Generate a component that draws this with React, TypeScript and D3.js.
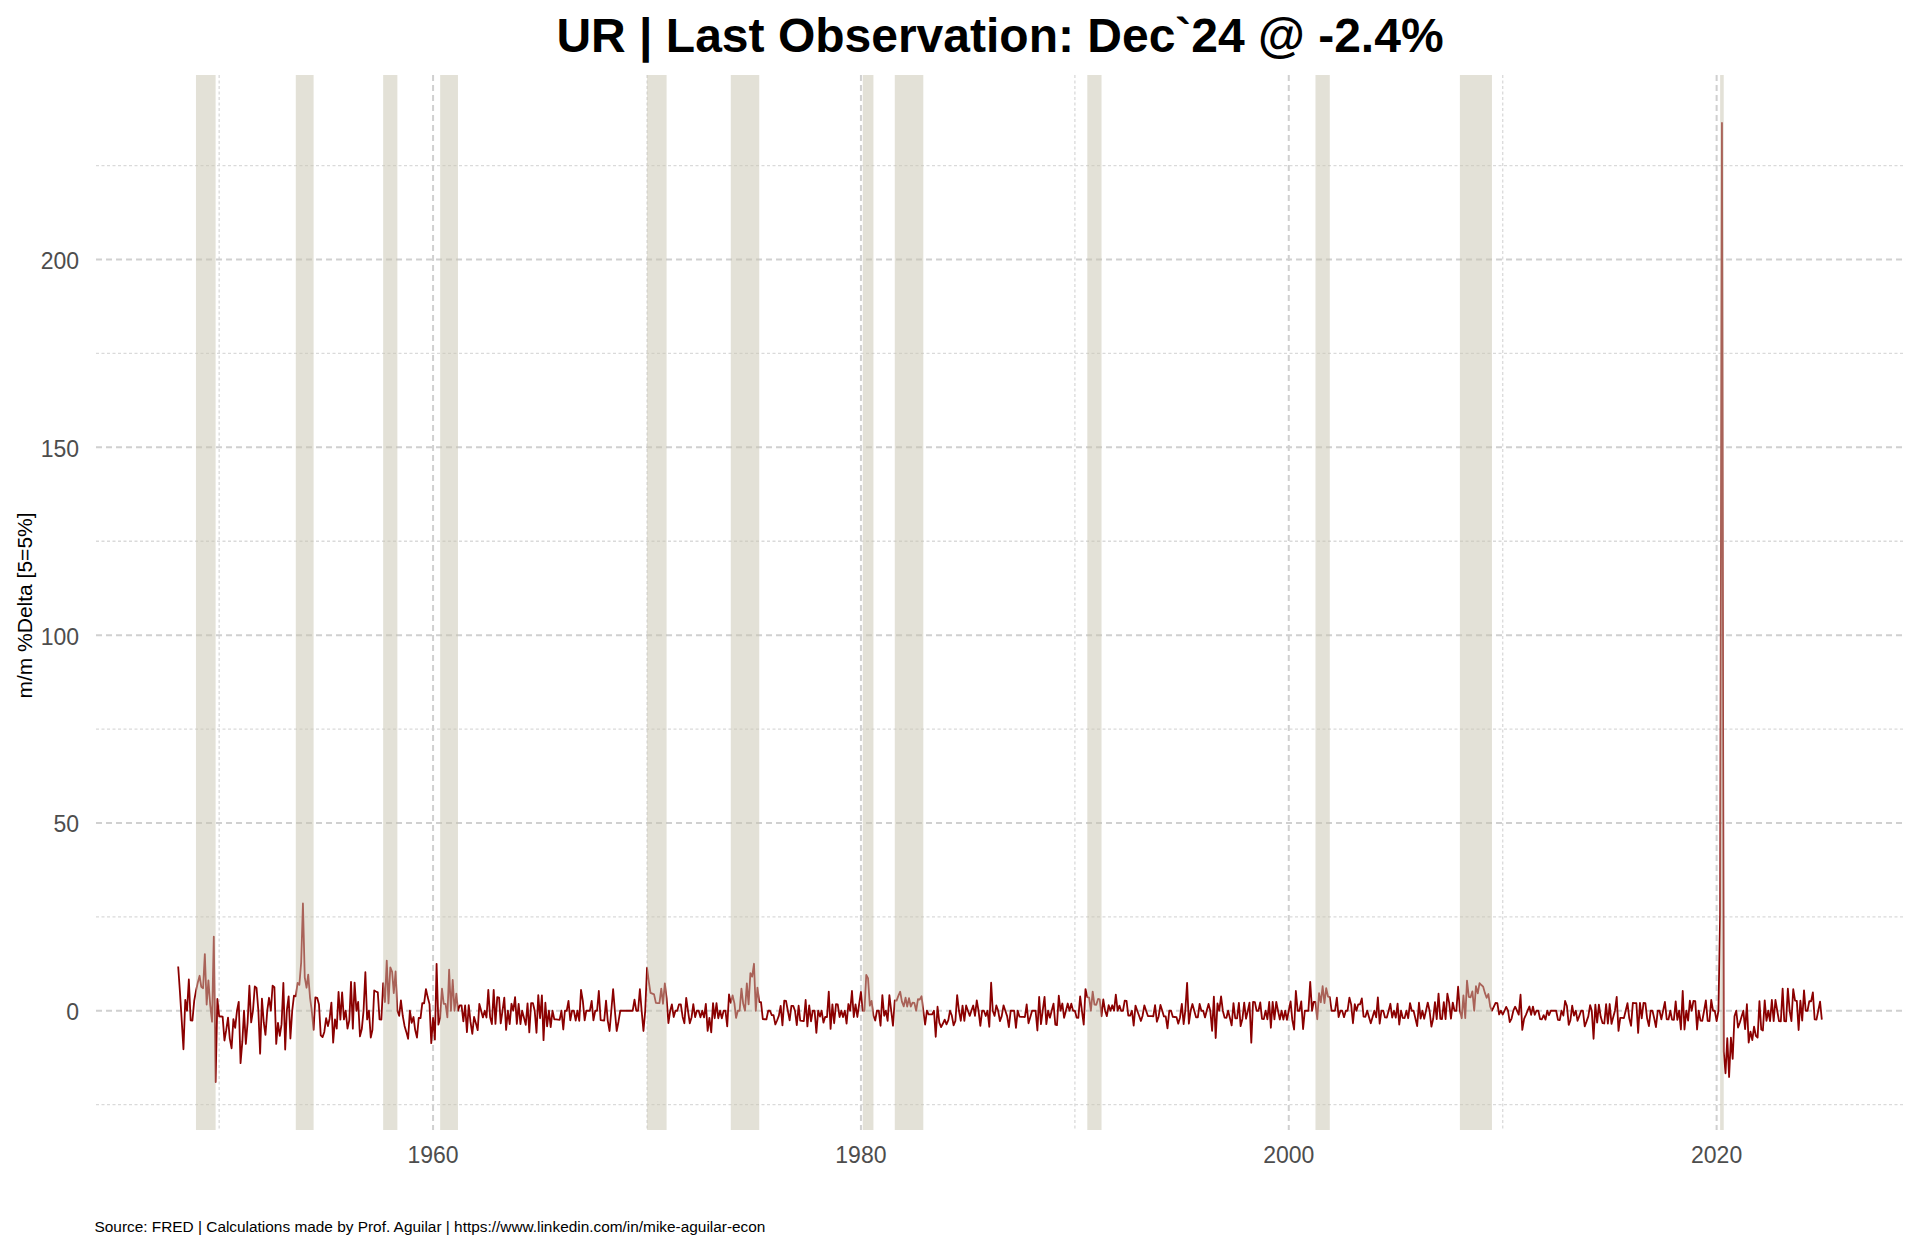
import React, { useEffect, useRef } from 'react';
import * as d3 from 'd3';

// US civilian unemployment rate (UNRATE, %), monthly, Jan 1948 – Dec 2024
const ur1940s = [
  3.4, 3.8, 4.0, 3.9, 3.5, 3.6, 3.6, 3.9, 3.8, 3.7, 3.8, 4.0,
  4.3, 4.7, 5.0, 5.3, 6.1, 6.2, 6.7, 6.8, 6.6, 7.9, 6.4, 6.6,
];
const ur1950s = [
  6.5, 6.4, 6.3, 5.8, 5.5, 5.4, 5.0, 4.5, 4.4, 4.2, 4.2, 4.3,
  3.7, 3.4, 3.4, 3.1, 3.0, 3.2, 3.1, 3.1, 3.3, 3.5, 3.5, 3.1,
  3.2, 3.1, 2.9, 2.9, 3.0, 3.0, 3.2, 3.4, 3.1, 3.0, 2.8, 2.7,
  2.9, 2.6, 2.6, 2.7, 2.5, 2.5, 2.6, 2.7, 2.9, 3.1, 3.5, 4.5,
  4.9, 5.2, 5.7, 5.9, 5.9, 5.6, 5.8, 6.0, 6.1, 5.7, 5.3, 5.0,
  4.9, 4.7, 4.6, 4.7, 4.3, 4.2, 4.0, 4.2, 4.1, 4.3, 4.2, 4.2,
  4.0, 3.9, 4.2, 4.0, 4.3, 4.3, 4.4, 4.1, 3.9, 3.9, 4.3, 4.2,
  4.2, 3.9, 3.7, 3.9, 4.1, 4.3, 4.2, 4.1, 4.4, 4.5, 5.1, 5.2,
  5.8, 6.4, 6.7, 7.4, 7.4, 7.3, 7.5, 7.4, 7.1, 6.7, 6.2, 6.2,
  6.0, 5.9, 5.6, 5.2, 5.1, 5.0, 5.1, 5.2, 5.5, 5.7, 5.8, 5.3,
];
const ur1960s = [
  5.2, 4.8, 5.4, 5.2, 5.1, 5.4, 5.5, 5.6, 5.5, 6.1, 6.1, 6.6,
  6.6, 6.9, 6.9, 7.0, 7.1, 6.9, 7.0, 6.6, 6.7, 6.5, 6.1, 6.0,
  5.8, 5.5, 5.6, 5.6, 5.5, 5.5, 5.4, 5.7, 5.6, 5.4, 5.7, 5.5,
  5.7, 5.9, 5.7, 5.7, 5.9, 5.6, 5.6, 5.4, 5.5, 5.5, 5.7, 5.5,
  5.6, 5.4, 5.4, 5.3, 5.1, 5.2, 4.9, 5.0, 5.1, 5.1, 4.8, 5.0,
  4.9, 5.1, 4.7, 4.8, 4.6, 4.6, 4.4, 4.4, 4.3, 4.2, 4.1, 4.0,
  4.0, 3.8, 3.8, 3.8, 3.9, 3.8, 3.8, 3.8, 3.7, 3.7, 3.6, 3.8,
  3.9, 3.8, 3.8, 3.8, 3.8, 3.9, 3.8, 3.8, 3.8, 4.0, 3.9, 3.8,
  3.7, 3.8, 3.7, 3.5, 3.5, 3.7, 3.7, 3.5, 3.4, 3.4, 3.4, 3.4,
  3.4, 3.4, 3.4, 3.4, 3.4, 3.5, 3.5, 3.5, 3.7, 3.7, 3.5, 3.5,
];
const ur1970s = [
  3.9, 4.2, 4.4, 4.6, 4.8, 4.9, 5.0, 5.1, 5.4, 5.5, 5.9, 6.1,
  5.9, 5.9, 6.0, 5.9, 5.9, 5.9, 6.0, 6.1, 6.0, 5.8, 6.0, 6.0,
  5.8, 5.7, 5.8, 5.7, 5.7, 5.7, 5.6, 5.6, 5.5, 5.6, 5.3, 5.2,
  4.9, 5.0, 4.9, 5.0, 4.9, 4.9, 4.8, 4.8, 4.8, 4.6, 4.8, 4.9,
  5.1, 5.2, 5.1, 5.1, 5.1, 5.4, 5.5, 5.5, 5.9, 6.0, 6.6, 7.2,
  8.1, 8.1, 8.6, 8.8, 9.0, 8.8, 8.6, 8.4, 8.4, 8.4, 8.3, 8.2,
  7.9, 7.7, 7.6, 7.7, 7.4, 7.6, 7.8, 7.8, 7.6, 7.7, 7.8, 7.8,
  7.5, 7.6, 7.4, 7.2, 7.0, 7.2, 6.9, 7.0, 6.8, 6.8, 6.8, 6.4,
  6.4, 6.3, 6.3, 6.1, 6.0, 5.9, 6.2, 5.9, 6.0, 5.8, 5.9, 6.0,
  5.9, 5.9, 5.8, 5.8, 5.6, 5.7, 5.7, 6.0, 5.9, 6.0, 5.9, 6.0,
];
const ur1980s = [
  6.3, 6.3, 6.3, 6.9, 7.5, 7.6, 7.8, 7.7, 7.5, 7.5, 7.5, 7.2,
  7.5, 7.4, 7.4, 7.2, 7.5, 7.5, 7.2, 7.4, 7.6, 7.9, 8.3, 8.5,
  8.6, 8.9, 9.0, 9.3, 9.4, 9.6, 9.8, 9.8, 10.1, 10.4, 10.8, 10.8,
  10.4, 10.4, 10.3, 10.2, 10.1, 10.1, 9.4, 9.5, 9.2, 8.8, 8.5, 8.3,
  8.0, 7.8, 7.8, 7.7, 7.4, 7.2, 7.5, 7.5, 7.3, 7.4, 7.2, 7.3,
  7.3, 7.2, 7.2, 7.3, 7.2, 7.4, 7.4, 7.1, 7.1, 7.1, 7.0, 7.0,
  6.7, 7.2, 7.2, 7.1, 7.2, 7.2, 7.0, 6.9, 7.0, 7.0, 6.9, 6.6,
  6.6, 6.6, 6.6, 6.3, 6.3, 6.2, 6.1, 6.0, 5.9, 6.0, 5.8, 5.7,
  5.7, 5.7, 5.7, 5.4, 5.6, 5.4, 5.4, 5.6, 5.4, 5.4, 5.3, 5.3,
  5.4, 5.2, 5.0, 5.2, 5.2, 5.3, 5.2, 5.2, 5.3, 5.3, 5.4, 5.4,
];
const ur1990s = [
  5.4, 5.3, 5.2, 5.4, 5.4, 5.2, 5.5, 5.7, 5.9, 5.9, 6.2, 6.3,
  6.4, 6.6, 6.8, 6.7, 6.9, 6.9, 6.8, 6.9, 6.9, 7.0, 7.0, 7.3,
  7.3, 7.4, 7.4, 7.4, 7.6, 7.8, 7.7, 7.6, 7.6, 7.3, 7.4, 7.4,
  7.3, 7.1, 7.0, 7.1, 7.1, 7.0, 6.9, 6.8, 6.7, 6.8, 6.6, 6.5,
  6.6, 6.6, 6.5, 6.4, 6.1, 6.1, 6.1, 6.0, 5.9, 5.8, 5.6, 5.5,
  5.6, 5.4, 5.4, 5.8, 5.6, 5.6, 5.7, 5.7, 5.6, 5.5, 5.6, 5.6,
  5.6, 5.5, 5.5, 5.6, 5.6, 5.3, 5.5, 5.1, 5.2, 5.2, 5.4, 5.4,
  5.3, 5.2, 5.2, 5.1, 4.9, 5.0, 4.9, 4.8, 4.9, 4.7, 4.6, 4.7,
  4.6, 4.6, 4.7, 4.3, 4.4, 4.5, 4.5, 4.5, 4.6, 4.5, 4.4, 4.4,
  4.3, 4.4, 4.2, 4.3, 4.2, 4.3, 4.3, 4.2, 4.2, 4.1, 4.1, 4.0,
];
const ur2000s = [
  4.0, 4.1, 4.0, 3.8, 4.0, 4.0, 4.0, 4.1, 3.9, 3.9, 3.9, 3.9,
  4.2, 4.2, 4.3, 4.4, 4.3, 4.5, 4.6, 4.9, 5.0, 5.3, 5.5, 5.7,
  5.7, 5.7, 5.7, 5.9, 5.8, 5.8, 5.8, 5.7, 5.7, 5.7, 5.9, 6.0,
  5.8, 5.9, 5.9, 6.0, 6.1, 6.3, 6.2, 6.1, 6.1, 6.0, 5.8, 5.7,
  5.7, 5.6, 5.8, 5.6, 5.6, 5.6, 5.5, 5.4, 5.4, 5.5, 5.4, 5.4,
  5.3, 5.4, 5.2, 5.2, 5.1, 5.0, 5.0, 4.9, 5.0, 5.0, 5.0, 4.9,
  4.7, 4.8, 4.7, 4.7, 4.6, 4.6, 4.7, 4.7, 4.5, 4.4, 4.5, 4.4,
  4.6, 4.5, 4.4, 4.5, 4.4, 4.6, 4.7, 4.6, 4.7, 4.7, 4.7, 5.0,
  5.0, 4.9, 5.1, 5.0, 5.4, 5.6, 5.8, 6.1, 6.1, 6.5, 6.8, 7.3,
  7.8, 8.3, 8.7, 9.0, 9.4, 9.5, 9.5, 9.6, 9.8, 10.0, 9.9, 9.9,
];
const ur2010s = [
  9.8, 9.8, 9.9, 9.9, 9.6, 9.4, 9.4, 9.5, 9.5, 9.4, 9.8, 9.3,
  9.1, 9.0, 9.0, 9.1, 9.0, 9.1, 9.0, 9.0, 9.0, 8.8, 8.6, 8.5,
  8.3, 8.3, 8.2, 8.2, 8.2, 8.2, 8.2, 8.0, 7.8, 7.8, 7.7, 7.9,
  8.0, 7.7, 7.5, 7.6, 7.5, 7.5, 7.3, 7.2, 7.2, 7.2, 6.9, 6.7,
  6.6, 6.7, 6.7, 6.2, 6.3, 6.1, 6.2, 6.1, 5.9, 5.7, 5.8, 5.6,
  5.7, 5.5, 5.4, 5.4, 5.6, 5.3, 5.2, 5.1, 5.0, 5.0, 5.1, 5.0,
  4.8, 4.9, 5.0, 5.1, 4.8, 4.9, 4.8, 4.9, 5.0, 4.9, 4.7, 4.7,
  4.7, 4.6, 4.4, 4.4, 4.4, 4.3, 4.3, 4.4, 4.3, 4.2, 4.2, 4.1,
  4.0, 4.1, 4.0, 4.0, 3.8, 4.0, 3.8, 3.8, 3.7, 3.8, 3.8, 3.9,
  4.0, 3.8, 3.8, 3.7, 3.6, 3.6, 3.7, 3.6, 3.5, 3.6, 3.6, 3.6,
];
const ur2020s = [
  3.5, 3.5, 4.4, 14.8, 13.2, 11.0, 10.2, 8.4, 7.8, 6.8, 6.7, 6.7,
  6.4, 6.2, 6.1, 6.1, 5.8, 5.9, 5.4, 5.1, 4.7, 4.5, 4.2, 3.9,
  4.0, 3.8, 3.6, 3.7, 3.6, 3.6, 3.5, 3.6, 3.5, 3.6, 3.6, 3.5,
  3.4, 3.6, 3.5, 3.4, 3.6, 3.6, 3.5, 3.7, 3.8, 3.9, 3.7, 3.8,
  3.7, 3.9, 3.9, 3.9, 4.0, 4.1, 4.3, 4.2, 4.1, 4.1, 4.2, 4.1,
];

// NBER recessions (USREC months: first month in recession, first month after trough)
const recessionStart = ['1948-12', '1953-08', '1957-09', '1960-05', '1970-01', '1973-12', '1980-02', '1981-08', '1990-08', '2001-04', '2008-01', '2020-03'];
const recessionEnd = ['1949-11', '1954-06', '1958-05', '1961-03', '1970-12', '1975-04', '1980-08', '1982-12', '1991-04', '2001-12', '2009-07', '2020-05'];

const xMajorYears = [1960, 1980, 2000, 2020];
const xMinorYears = [1950, 1970, 1990, 2010];
const yMajorTicks = [0, 50, 100, 150, 200];
const yMinorTicks = [-25, 25, 75, 125, 175, 225];

const titleText = 'UR | Last Observation: Dec`24 @ -2.4%';
const yAxisTitle = 'm/m %Delta [5=5%]';
const captionText = 'Source: FRED | Calculations made by Prof. Aguilar | https://www.linkedin.com/in/mike-aguilar-econ';

const W = 1920;
const H = 1248;
const panel = { left: 96, right: 1904, top: 75, bottom: 1130 };
const FONT = '"Liberation Sans", Arial, Helvetica, sans-serif';

function parseMonth(s: string): Date {
  const [y, m] = s.split('-').map(Number);
  return new Date(Date.UTC(y, m - 1, 1));
}

export default function App() {
  const ref = useRef<SVGSVGElement | null>(null);

  useEffect(() => {
    document.body.style.margin = '0';
    const svg = d3.select(ref.current);
    svg.selectAll('*').remove();

    const levels = [...ur1940s, ...ur1950s, ...ur1960s, ...ur1970s, ...ur1980s, ...ur1990s, ...ur2000s, ...ur2010s, ...ur2020s];
    const data: { date: Date; v: number }[] = [];
    for (let i = 1; i < levels.length; i++) {
      const date = new Date(Date.UTC(1948, i, 1));
      data.push({ date, v: (levels[i] / levels[i - 1] - 1) * 100 });
    }

    const xExt = d3.extent(data, (d) => d.date.getTime()) as [number, number];
    const xPad = (xExt[1] - xExt[0]) * 0.05;
    const x = d3
      .scaleUtc()
      .domain([new Date(xExt[0] - xPad), new Date(xExt[1] + xPad)])
      .range([panel.left, panel.right]);

    const yExt = d3.extent(data, (d) => d.v) as [number, number];
    const yPad = (yExt[1] - yExt[0]) * 0.05;
    const y = d3
      .scaleLinear()
      .domain([yExt[0] - yPad, yExt[1] + yPad])
      .range([panel.bottom, panel.top]);

    const yr = (year: number) => x(new Date(Date.UTC(year, 0, 1)));

    const grid = svg.append('g');
    // minor gridlines
    grid
      .selectAll('line.ymin')
      .data(yMinorTicks)
      .join('line')
      .attr('x1', panel.left)
      .attr('x2', panel.right)
      .attr('y1', (d) => y(d))
      .attr('y2', (d) => y(d))
      .attr('stroke', '#dadada')
      .attr('stroke-width', 1.3)
      .attr('stroke-dasharray', '3 2.5');
    grid
      .selectAll('line.xmin')
      .data(xMinorYears)
      .join('line')
      .attr('x1', (d) => yr(d))
      .attr('x2', (d) => yr(d))
      .attr('y1', panel.top)
      .attr('y2', panel.bottom)
      .attr('stroke', '#dadada')
      .attr('stroke-width', 1.3)
      .attr('stroke-dasharray', '3 2.5');
    // major gridlines
    grid
      .append('g')
      .selectAll('line')
      .data(yMajorTicks)
      .join('line')
      .attr('x1', panel.left)
      .attr('x2', panel.right)
      .attr('y1', (d) => y(d))
      .attr('y2', (d) => y(d))
      .attr('stroke', '#d0d0d0')
      .attr('stroke-width', 2)
      .attr('stroke-dasharray', '6 4');
    grid
      .append('g')
      .selectAll('line')
      .data(xMajorYears)
      .join('line')
      .attr('x1', (d) => yr(d))
      .attr('x2', (d) => yr(d))
      .attr('y1', panel.top)
      .attr('y2', panel.bottom)
      .attr('stroke', '#d0d0d0')
      .attr('stroke-width', 2)
      .attr('stroke-dasharray', '6 4');

    // series line
    const line = d3
      .line<{ date: Date; v: number }>()
      .x((d) => x(d.date))
      .y((d) => y(d.v));
    svg
      .append('path')
      .datum(data)
      .attr('d', line)
      .attr('fill', 'none')
      .attr('stroke', '#8B0000')
      .attr('stroke-width', 1.8)
      .attr('stroke-linejoin', 'round');

    // recession shading (drawn on top, semi-transparent)
    const rec = recessionStart.map((s, i) => ({ s: parseMonth(s), e: parseMonth(recessionEnd[i]) }));
    svg
      .append('g')
      .selectAll('rect')
      .data(rec)
      .join('rect')
      .attr('x', (d) => x(d.s))
      .attr('width', (d) => x(d.e) - x(d.s))
      .attr('y', panel.top)
      .attr('height', panel.bottom - panel.top)
      .attr('fill', 'rgb(200,196,176)')
      .attr('fill-opacity', 0.5);

    // axis labels
    svg
      .append('g')
      .selectAll('text')
      .data(yMajorTicks)
      .join('text')
      .attr('x', 79)
      .attr('y', (d) => y(d) + 9.5)
      .attr('text-anchor', 'end')
      .attr('font-family', FONT)
      .attr('font-size', 23)
      .attr('fill', '#4d4d4d')
      .text((d) => String(d));
    svg
      .append('g')
      .selectAll('text')
      .data(xMajorYears)
      .join('text')
      .attr('x', (d) => yr(d))
      .attr('y', 1163)
      .attr('text-anchor', 'middle')
      .attr('font-family', FONT)
      .attr('font-size', 23)
      .attr('fill', '#4d4d4d')
      .text((d) => String(d));

    svg
      .append('text')
      .attr('transform', `translate(32, ${(panel.top + panel.bottom) / 2 + 3}) rotate(-90)`)
      .attr('text-anchor', 'middle')
      .attr('font-family', FONT)
      .attr('font-size', 21)
      .attr('fill', '#000')
      .text(yAxisTitle);

    svg
      .append('text')
      .attr('x', (panel.left + panel.right) / 2)
      .attr('y', 51.5)
      .attr('text-anchor', 'middle')
      .attr('font-family', FONT)
      .attr('font-weight', 'bold')
      .attr('font-size', 48)
      .attr('fill', '#000')
      .text(titleText);

    svg
      .append('text')
      .attr('x', 94.5)
      .attr('y', 1231.5)
      .attr('font-family', FONT)
      .attr('font-size', 15.4)
      .attr('fill', '#000')
      .text(captionText);
  }, []);

  return (
    <svg
      ref={ref}
      width={W}
      height={H}
      viewBox={`0 0 ${W} ${H}`}
      style={{ position: 'absolute', left: 0, top: 0, background: '#fff', display: 'block' }}
    />
  );
}
